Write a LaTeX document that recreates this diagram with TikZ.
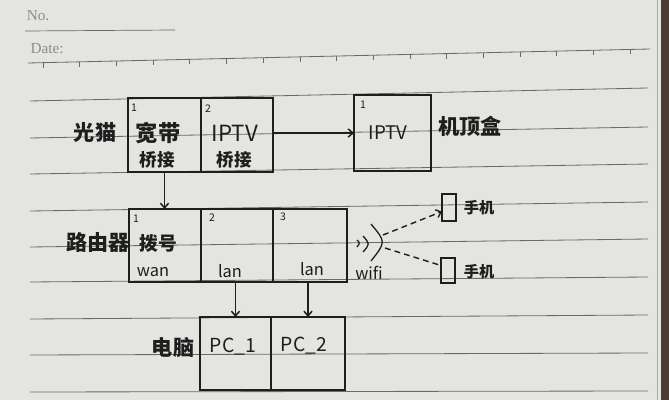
\documentclass[tikz,border=0pt]{standalone}
\usepackage{fontspec}
\setmainfont{Noto Sans CJK SC}
\newfontfamily\printfont{Liberation Serif}
\usetikzlibrary{arrows.meta,calc}
\definecolor{paper}{HTML}{E4E4E0}
\definecolor{rulec}{HTML}{6A6A6A}
\definecolor{ink}{HTML}{1E1E1E}
\definecolor{printc}{HTML}{8C8C8C}
\definecolor{edgec}{HTML}{4A3C34}
\tikzset{
  pen/.style={draw=ink, line width=1.3pt},
  cellbox/.style={pen, rectangle, inner sep=0pt, outer sep=0pt},
  rulel/.style={draw=rulec, line width=0.7pt},
  arr/.style={pen, -{Straight Barb[length=4pt,width=7pt]}},
  dsh/.style={draw=ink, line width=1.2pt, dash pattern=on 5pt off 3.5pt},
  big/.style={text=ink, font=\bfseries\fontsize{18}{18}\selectfont, inner sep=0pt},
  mid/.style={text=ink, font=\bfseries\fontsize{15}{15}\selectfont, inner sep=0pt},
  lat/.style={text=ink, font=\fontsize{19}{19}\selectfont, inner sep=0pt},
  latpc/.style={text=ink, font=\fontsize{16.5}{16.5}\selectfont, inner sep=0pt},
  latsm/.style={text=ink, font=\fontsize{14}{14}\selectfont, inner sep=0pt},
  num/.style={text=ink, font=\fontsize{9}{9}\selectfont, inner sep=0pt},
  prt/.style={text=printc, font=\printfont\fontsize{13}{13}\selectfont, inner sep=0pt},
}
\newcommand\cellnode[5]{\node[cellbox, minimum width={(#4-#2)*0.03cm}, minimum height={(#5-#3)*0.03cm}] (#1) at ({(#2+#4)/2},{(#3+#5)/2}) {};}
\begin{document}
\begin{tikzpicture}[x=0.03cm,y=-0.03cm]
% paper
\fill[paper] (0,0) rectangle (669,400);
\useasboundingbox (0,0) rectangle (669,400);
\fill[edgec] (661,0) rectangle (669,400);
\draw[draw=printc!70, line width=0.6pt] (657,0) -- (657,400);
% header
\node[prt] (no) at (38,16) {No.};
\draw[draw=rulec, line width=0.6pt] (25,31) -- (175,30);
\node[prt] (date) at (47,49) {Date:};
\draw[rulel] (28,63) -- (650,49);
\foreach \i in {0,...,16} {
  \pgfmathsetmacro{\tx}{43+36.7*\i}
  \pgfmathsetmacro{\ty}{63-14*(\tx-28)/622}
  \draw[draw=rulec, line width=0.6pt] (\tx,\ty) -- (\tx,\ty+5);
}
% ruled lines
\draw[rulel] (30,101) -- (648,88);
\draw[rulel] (30,138) -- (648,127);
\draw[rulel] (30,174) -- (648,164);
\draw[rulel] (30,211) -- (648,202);
\draw[rulel] (30,247) -- (648,239);
\draw[rulel] (30,282) -- (648,277);
\draw[rulel] (30,319) -- (648,315);
\draw[rulel] (30,355) -- (648,353);
\draw[rulel] (30,392) -- (648,391);
% cells
\cellnode{k1}{128}{98}{201}{172}
\cellnode{k2}{201}{98}{273}{172}
\cellnode{stb}{354}{95}{431}{171}
\cellnode{r1}{129}{209}{201}{282}
\cellnode{r2}{201}{209}{273}{282}
\cellnode{r3}{273}{209}{347}{282}
\cellnode{pc1}{200}{317}{271}{390}
\cellnode{pc2}{271}{317}{345}{390}
\cellnode{ph1}{442}{194}{456}{221}
\cellnode{ph2}{441}{258}{455}{283}
% labels
\node[big] (lgm) at (95,133) {光猫};
\node[num] (n11) at (134,108) {1};
\node[num] (n12) at (208,109) {2};
\node[big, font=\bfseries\fontsize{19}{19}\selectfont] (kd) at (158,133) {宽带};
\node[mid] (qj1) at (157,160) {桥接};
\node[lat] (iptv1) at (235,133) {IPTV};
\node[mid] (qj2) at (234,160) {桥接};
\node[num] (n21) at (363,105) {1};
\node[text=ink, font=\fontsize{16}{16}\selectfont, inner sep=0pt] (iptv2) at (388,133) {IPTV};
\node[big] (jdh) at (470,126) {机顶盒};
\node[big] (lyq) at (98,242) {路由器};
\node[num] (n31) at (136,219) {1};
\node[num] (n32) at (212,218) {2};
\node[num] (n33) at (283,217) {3};
\node[mid, font=\bfseries\fontsize{16}{16}\selectfont] (bh) at (158,243) {拨号};
\node[latsm] (wan) at (153,272) {wan};
\node[latsm] (lan1) at (230,271) {lan};
\node[latsm] (lan2) at (312,269) {lan};
\node[latsm] (wifi) at (369,273) {wifi};
\node[text=ink, font=\bfseries\fontsize{13}{13}\selectfont, inner sep=0pt] (sj1) at (479,208) {手机};
\node[text=ink, font=\bfseries\fontsize{13}{13}\selectfont, inner sep=0pt] (sj2) at (479,272) {手机};
\node[big] (dn) at (173,347) {电脑};
\node[latpc] (pct1) at (233,347) {PC\_1};
\node[latpc] (pct2) at (304,346) {PC\_2};
% connectors
\draw[arr] (k2.east |- stb.west) -- (stb.west);
\draw[arr] (k1.south) -- (k1.south |- r1.north);
\draw[arr] (pc1.north |- r2.south) -- (pc1.north);
\draw[arr] (pc2.north |- r3.south) -- (pc2.north);
% wifi symbol
\draw[pen, line width=1.1pt] (357,240) .. controls (360,243) .. (357,247);
\draw[pen, line width=1.1pt] (363,236) .. controls (370,244) .. (363,252);
\draw[pen, line width=1.1pt] (371,224) .. controls (386,242) .. (371,261);
\coordinate (w1) at (383,235);
\coordinate (w2) at (385,248);
\draw[dsh, -{Straight Barb[length=4pt,width=7pt]}] (w1) -- ($(ph1.west)+(0,4)$);
\draw[dsh] (w2) -- ($(ph2.west)+(0,-5)$);
\end{tikzpicture}
\end{document}
